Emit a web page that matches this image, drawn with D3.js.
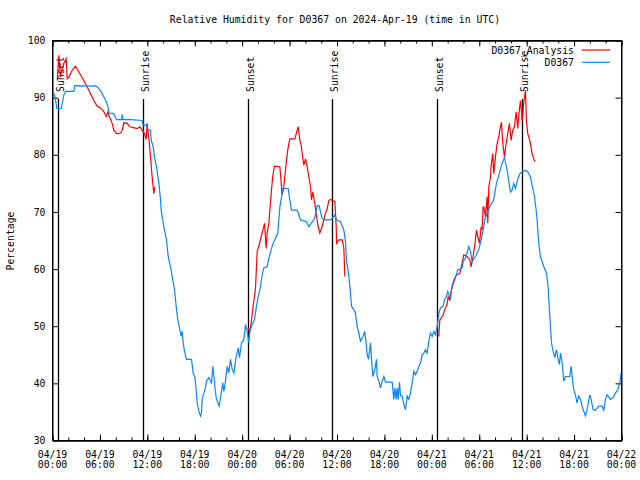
<!DOCTYPE html>
<html><head><meta charset="utf-8">
<script src="https://cdn.jsdelivr.net/npm/d3@7"></script>
<style>
html,body{margin:0;padding:0;background:#fff;}
text{font-family:"DejaVu Sans Mono","Liberation Mono",monospace;}
</style></head>
<body><svg id="chart" width="640" height="480"></svg>
<script>
// ---- data (hours after 2024-04-19 00:00 UTC) ----
const title = "Relative Humidity for D0367 on 2024-Apr-19 (time in UTC)";
const yLabel = "Percentage";
const seriesNames = ["D0367_Analysis", "D0367"];
const yTicks = [30, 40, 50, 60, 70, 80, 90, 100];
const xMajorHours = [0, 6, 12, 18, 24, 30, 36, 42, 48, 54, 60, 66, 72];
const xTickDates = ["04/19","04/19","04/19","04/19","04/20","04/20","04/20","04/20","04/21","04/21","04/21","04/21","04/22"];
const xTickTimes = ["00:00","06:00","12:00","18:00","00:00","06:00","12:00","18:00","00:00","06:00","12:00","18:00","00:00"];
const sunHours = [0.67, 11.43, 24.71, 35.34, 48.63, 59.38];
const sunLabels = ["Sunset","Sunrise","Sunset","Sunrise","Sunset","Sunrise"];

const blueHours = [0.1,0.35,0.55,1.1,1.3,1.45,1.65,2.7,2.83,5.0,5.44,5.86,6.16,6.5,6.83,7.0,7.17,7.76,8.1,8.75,8.82,8.9,9.87,11.35,11.47,11.9,12.06,12.4,12.5,12.74,12.9,13.16,13.46,13.67,13.75,14.09,14.43,14.64,14.93,15.23,15.44,15.65,15.86,16.07,16.28,16.41,16.54,16.7,16.96,17.59,17.8,18.01,18.14,18.31,18.52,18.73,18.85,18.94,19.15,19.36,19.49,19.78,19.99,20.12,20.29,20.41,20.54,20.71,20.92,21.09,21.26,21.38,21.55,21.68,21.89,22.1,22.31,22.52,22.74,22.95,23.24,23.5,23.66,23.92,24.21,24.42,24.63,24.84,24.97,25.27,25.56,25.81,26.03,26.32,26.53,26.74,27.16,27.38,27.67,27.92,28.22,28.51,28.64,28.77,28.85,29.15,29.82,30.03,30.24,30.96,31.17,31.38,32.14,32.44,32.73,33.07,33.28,33.49,33.74,33.91,34.12,34.33,35.18,35.39,35.73,35.94,36.44,36.87,37.08,37.2,37.5,37.71,37.84,38.13,38.34,38.55,38.76,38.97,39.31,39.48,39.65,39.82,39.99,40.24,40.37,40.54,40.79,41.0,41.08,41.29,41.5,41.72,41.93,42.14,42.98,43.19,43.32,43.49,43.61,43.74,43.91,44.04,44.25,44.46,44.67,44.88,45.09,45.3,45.51,45.72,45.93,46.15,46.36,46.57,46.78,46.99,47.2,47.41,47.62,47.83,48.04,48.25,48.47,48.68,48.88,49.09,49.43,49.6,49.85,50.02,50.36,50.57,50.78,51.12,51.28,51.54,51.83,51.96,52.25,52.68,52.89,53.1,53.52,53.94,54.24,54.49,54.7,55.0,55.42,55.8,56.18,56.47,56.89,57.19,57.53,57.74,57.95,58.16,58.37,58.58,58.79,59.13,59.43,59.85,60.14,60.48,60.73,60.99,61.2,61.32,61.53,61.74,62.17,62.5,62.71,62.93,63.14,63.35,63.56,63.77,63.94,64.15,64.28,64.49,64.7,64.91,65.46,65.63,65.79,65.96,66.17,66.38,66.6,66.81,67.02,67.23,67.44,67.65,67.99,68.16,68.41,68.7,69.13,69.55,69.76,69.97,70.18,70.6,70.94,71.24,71.53,71.78,71.95];
const blueValues = [91.0,90.0,88.1,88.1,89.5,90.5,91.1,91.1,92.1,92.0,92.1,91.6,91.0,90.1,89.2,88.5,87.3,87.2,86.15,86.15,87.1,86.15,86.15,86.0,85.2,85.2,84.3,84.3,82.5,81.4,79.6,77.9,75.0,72.1,70.3,67.4,65.1,62.2,60.4,58.1,56.4,53.5,51.1,49.7,48.2,49.1,47.1,45.6,44.2,44.2,41.8,41.1,39.5,36.6,35.1,34.3,34.9,37.2,38.3,39.2,40.4,41.0,40.4,40.1,43.0,41.5,39.5,37.5,36.6,36.0,37.5,38.6,40.1,38.6,40.4,43.0,41.8,44.2,42.4,41.8,44.7,46.2,44.5,47.1,47.6,50.3,49.1,47.1,49.1,50.3,51.1,53.5,55.2,56.9,59.0,60.2,60.4,61.9,63.4,64.5,65.4,66.3,68.6,70.9,71.5,74.1,74.1,72.1,70.3,70.3,69.5,68.6,68.3,67.4,68.0,68.6,69.5,71.1,71.1,70.0,68.9,68.6,68.6,68.9,69.5,68.6,68.3,66.8,64.8,61.6,58.7,55.8,53.5,52.9,52.3,50.0,48.8,47.4,48.2,49.1,47.6,45.0,44.2,47.1,44.2,41.2,42.4,44.2,41.2,40.4,39.2,40.4,41.2,40.2,40.2,37.2,39.2,37.2,39.2,37.2,40.2,37.8,37.8,36.3,35.4,37.8,37.2,38.3,40.1,42.1,41.5,42.1,43.0,43.6,45.0,45.3,45.9,45.3,47.4,48.8,48.2,49.1,48.5,50.0,52.2,53.2,53.5,54.6,55.2,56.1,54.6,57.2,58.1,59.0,59.9,59.9,60.2,61.3,61.9,63.9,63.1,61.3,62.2,63.4,65.1,66.8,68.6,69.8,71.2,72.0,75.0,76.4,78.5,79.5,77.3,75.3,73.5,73.8,75.0,74.1,75.3,76.7,77.0,77.3,77.0,76.1,74.4,72.7,70.3,68.6,64.5,62.2,60.4,59.3,57.0,51.7,47.1,45.6,44.5,45.9,44.5,43.3,45.3,43.6,40.4,41.2,41.2,43.0,40.7,38.9,38.0,36.6,37.8,37.2,36.0,35.1,34.3,35.4,38.0,37.2,35.4,35.3,36.0,36.0,35.3,37.2,38.0,37.2,37.5,38.3,38.9,40.1,41.8];

// null marks a gap in the analysis series
const redHours = [0.6,0.8,1.01,1.22,1.43,1.73,1.86,2.07,2.49,2.91,3.96,4.6,5.23,5.65,6.07,6.5,6.83,7.0,7.21,7.55,7.76,8.1,8.6,8.82,9.03,9.45,9.79,10.08,10.71,11.05,11.35,11.64,11.85,11.98,12.11,12.23,12.4,12.61,12.82,12.95,13.0,
 24.72,24.97,25.14,25.27,25.39,25.56,25.69,25.9,26.11,26.41,26.62,26.83,27.04,27.16,27.38,27.5,27.67,27.88,28.09,28.77,28.94,29.06,29.27,29.48,29.7,29.91,30.03,30.67,30.96,31.09,31.3,31.47,31.68,31.8,32.02,32.23,32.44,32.65,32.77,32.94,33.15,33.41,33.62,33.83,34.12,34.33,34.55,34.76,34.97,35.18,35.73,35.9,35.94,36.23,36.66,36.87,36.99,37.0,
 48.88,49.01,49.18,49.43,49.72,49.93,50.06,50.23,50.44,50.65,50.86,51.12,51.54,51.83,52.04,52.47,52.8,52.97,53.22,53.44,53.65,53.81,54.03,54.24,54.36,54.49,54.57,54.79,55.0,55.08,55.21,55.42,55.54,55.71,55.84,56.05,56.26,56.47,56.68,56.81,56.98,57.19,57.4,57.61,57.82,58.03,58.24,58.45,58.67,58.88,59.0,59.21,59.43,59.64,59.85,59.97,60.14,60.4,60.69,60.9,61.03];
const redValues = [93.0,97.4,93.6,94.8,96.0,96.8,93.3,93.6,94.8,95.5,93.0,91.3,89.5,88.5,88.2,87.5,86.7,87.5,86.6,85.5,84.3,83.7,83.8,84.3,85.6,85.5,84.9,84.8,84.6,84.9,84.3,83.7,82.7,85.5,83.7,82.5,79.6,76.1,73.2,74.4,null,
 49.7,49.1,50.6,52.0,53.5,55.2,56.7,63.1,64.0,65.7,66.8,68.0,63.6,66.3,68.0,70.3,73.2,76.4,78.0,77.9,75.0,73.0,74.4,77.3,80.2,82.0,82.8,82.8,84.3,84.9,82.5,81.7,79.3,78.2,79.3,77.9,76.1,74.4,72.1,73.5,71.8,69.2,67.4,66.3,67.4,68.6,69.8,70.6,72.0,72.2,71.8,67.4,64.5,65.1,65.1,63.6,58.7,null,
 48.2,51.1,51.4,52.0,53.2,53.8,55.2,54.6,56.1,57.2,58.1,59.0,59.2,61.0,62.5,62.2,61.6,60.4,62.2,64.2,66.8,65.7,64.5,67.4,66.8,70.9,70.9,69.2,72.7,68.0,74.4,76.1,78.5,80.2,76.7,79.6,82.0,83.1,84.9,85.7,82.0,79.6,82.0,83.7,85.5,82.5,84.3,84.9,87.5,84.6,86.9,89.5,86.0,89.2,91.3,86.0,83.7,82.5,80.2,79.3,78.8];

// ---- drawing ----
const START = Date.UTC(2024, 3, 19);
const toDate = h => new Date(START + h * 3600e3);
const L = 52.5, R = 621.5, T = 40.5, B = 440.5;
const svg = d3.select("#chart");
const x = d3.scaleUtc().domain([toDate(0), toDate(72)]).range([L, R]);
const y = d3.scaleLinear().domain([30, 100]).range([B, T]);
const FS = "9.8px";

svg.append("defs").append("clipPath").attr("id","clip")
  .append("rect").attr("x",L).attr("y",T).attr("width",R-L).attr("height",B-T);

// title
svg.append("text").attr("x", 335).attr("y", 23).attr("text-anchor","middle")
  .style("font-size", FS).text(title);

// y label
svg.append("text").attr("transform","translate(14,241) rotate(-90)")
  .attr("text-anchor","middle").style("font-size", FS).text(yLabel);

// axes
const minorHours = d3.range(0, 73, 2);
svg.append("g").attr("transform",`translate(0,${B})`)
  .call(d3.axisBottom(x).tickValues(minorHours.map(toDate)).tickSize(-3).tickSizeOuter(0).tickFormat(""));
svg.append("g").attr("transform",`translate(0,${B})`)
  .call(d3.axisBottom(x).tickValues(xMajorHours.map(toDate)).tickSize(-6).tickSizeOuter(0).tickFormat(""));
svg.append("g").attr("transform",`translate(0,${T})`)
  .call(d3.axisTop(x).tickValues(minorHours.map(toDate)).tickSize(-3).tickSizeOuter(0).tickFormat(""));
svg.append("g").attr("transform",`translate(0,${T})`)
  .call(d3.axisTop(x).tickValues(xMajorHours.map(toDate)).tickSize(-6).tickSizeOuter(0).tickFormat(""));
svg.append("g").attr("transform",`translate(${L},0)`)
  .call(d3.axisLeft(y).tickValues(yTicks).tickSize(-6).tickSizeOuter(0).tickPadding(7).tickFormat(d3.format("d")));
svg.append("g").attr("transform",`translate(${R},0)`)
  .call(d3.axisRight(y).tickValues(yTicks).tickSize(-6).tickSizeOuter(0).tickFormat(""));
svg.selectAll(".tick text").style("font-size", FS).attr("fill","#000").style("font-family",'"DejaVu Sans Mono",monospace');
svg.selectAll(".tick line").attr("stroke","#000");
svg.selectAll(".domain").attr("stroke","#000");

// two-line x tick labels
const xl = svg.append("g");
xMajorHours.forEach((h, i) => {
  const tx = x(toDate(h));
  xl.append("text").attr("x",tx).attr("y",458).attr("text-anchor","middle").style("font-size",FS).text(xTickDates[i]);
  xl.append("text").attr("x",tx).attr("y",468).attr("text-anchor","middle").style("font-size",FS).text(xTickTimes[i]);
});

// frame
svg.append("rect").attr("x",L).attr("y",T).attr("width",R-L).attr("height",B-T)
  .attr("fill","none").attr("stroke","#000").attr("stroke-width",1);

// sunrise / sunset markers
const sun = svg.append("g");
sunHours.forEach((h, i) => {
  const sx = Math.round(x(toDate(h))) + 0.5;
  sun.append("line").attr("x1",sx).attr("x2",sx).attr("y1",99).attr("y2",B)
    .attr("stroke","#000").attr("stroke-width",1.3);
  sun.append("text").attr("transform",`translate(${sx+5},92) rotate(-90)`)
    .attr("text-anchor","start").style("font-size", FS).text(sunLabels[i]);
});

// series
const blue = blueHours.map((h,i)=>({t:toDate(h), v:blueValues[i]}));
const red = redHours.map((h,i)=>({t:toDate(h), v:redValues[i]}));
const line = d3.line().defined(d => d.v != null).x(d => x(d.t)).y(d => y(d.v));
const plot = svg.append("g").attr("clip-path","url(#clip)");
plot.append("path").datum(red).attr("d", line).attr("fill","none")
  .attr("stroke","#ff0000").attr("stroke-width",1.2);
plot.append("path").datum(blue).attr("d", line).attr("fill","none")
  .attr("stroke","#0a84ff").attr("stroke-width",1.2);

// legend
const legColors = ["#ff0000", "#0a84ff"];
seriesNames.forEach((n, i) => {
  const ly = 50 + i * 12.3;
  svg.append("text").attr("x",574).attr("y",ly+3.5).attr("text-anchor","end")
    .style("font-size", FS).text(n);
  svg.append("line").attr("x1",582).attr("x2",610).attr("y1",ly).attr("y2",ly)
    .attr("stroke",legColors[i]).attr("stroke-width",1.2);
});
</script></body></html>
